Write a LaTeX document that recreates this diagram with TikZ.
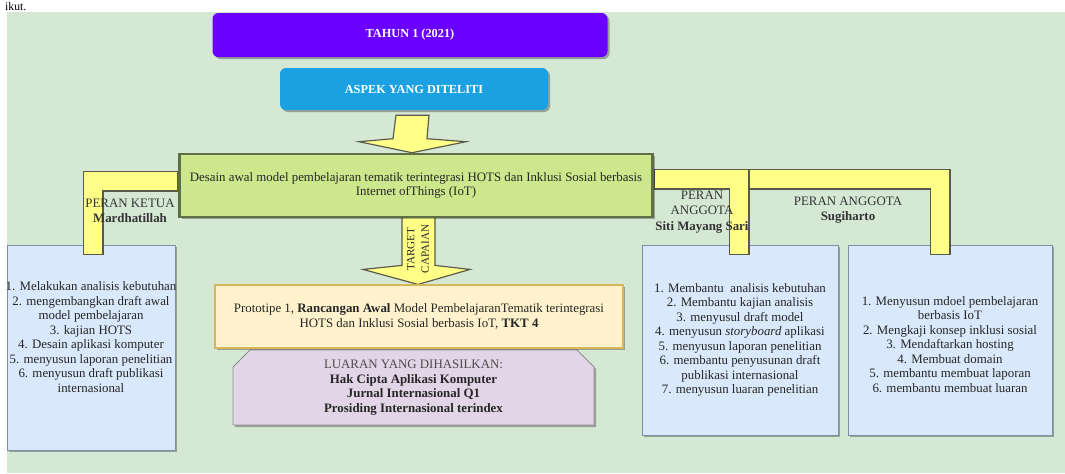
\documentclass[tikz,border=0pt]{standalone}
\usepackage{fontspec}
\setmainfont{Liberation Serif}
\usetikzlibrary{positioning,calc,shapes.misc,shadows}
\usepackage{xcolor}
\definecolor{bggreen}{HTML}{D5E8D4}
\definecolor{tahunpurple}{HTML}{6A00FF}
\definecolor{aspekblue}{HTML}{1BA1E2}
\definecolor{limefill}{HTML}{CDE88C}
\definecolor{limeedge}{HTML}{5F7046}
\definecolor{bandfill}{HTML}{FFFF88}
\definecolor{bandedge}{HTML}{5A5A4A}
\definecolor{protofill}{HTML}{FFF2CC}
\definecolor{protoedge}{HTML}{D6B656}
\definecolor{luaranfill}{HTML}{E1D5E7}
\definecolor{luaranedge}{HTML}{8E8E8E}
\definecolor{rolefill}{HTML}{DAE8FC}
\definecolor{roleedge}{HTML}{7D8FA8}
\newcommand{\px}{0.03cm}
\pgfdeclarelayer{back}
\pgfdeclarelayer{mid}
\pgfsetlayers{back,mid,main}

\begin{document}
\begin{tikzpicture}[x=\px, y=-\px,
    font=\fontsize{11}{12.5}\selectfont,
    boxshadow/.style={drop shadow={shadow xshift=0.06cm, shadow yshift=-0.06cm, opacity=0.3, fill=black}},
    box/.style={draw, inner sep=3pt, align=center, text=black!85, boxshadow},
    head/.style={box, draw=none, rounded corners=5pt, text=white, font=\fontsize{10.5}{12}\selectfont\bfseries},
    rolebox/.style={box, fill=rolefill, draw=roleedge, line width=0.8pt},
    listtext/.style={align=center, text=black!85, font=\fontsize{11}{12.4}\selectfont},
    rolelabel/.style={align=center, text=black!80, font=\fontsize{11}{13}\selectfont},
    elbow/.style={line width=21*\px, draw=bandedge, line join=miter,
      postaction={draw=bandfill, line width=18*\px, shorten <=1.5*\px, shorten >=1.5*\px}},
    yarrow/.style={fill=bandfill, draw=bandedge, line width=1pt, line join=miter}]

  \useasboundingbox (0,0) rectangle (1065,473);

  % ---- backdrop and role boxes ------------------------------------------
  \begin{pgfonlayer}{back}
    \fill[bggreen] (7,12) rectangle (1065,473);
    \node[rolebox, minimum width=168*\px, minimum height=205*\px] (ketua) at (91,347.5) {};
    \node[rolebox, minimum width=196*\px, minimum height=190*\px] (siti)  at (740,340) {};
    \node[rolebox, minimum width=204*\px, minimum height=190*\px] (sugi)  at (950,340) {};
  \end{pgfonlayer}
  \node[anchor=base west, font=\fontsize{10}{10}\selectfont] (kata) at (1,10) {ikut.};

  % ---- top of the chart --------------------------------------------------
  \node[head, fill=tahunpurple, minimum width=395*\px, minimum height=44*\px] (tahun) at (410,35) {TAHUN 1 (2021)};
  \node[head, fill=aspekblue, minimum width=268*\px, minimum height=42*\px] (aspek) at (414,89) {ASPEK YANG DITELITI};
  \node[box, fill=limefill, draw=limeedge, line width=2.2pt, minimum width=473*\px, minimum height=63*\px] (desain) at (416,185.5)
    {Desain awal model pembelajaran tematik terintegrasi HOTS dan Inklusi Sosial berbasis\\ Internet ofThings (IoT)};

  % ---- target and outputs ------------------------------------------------
  \node[chamfered rectangle, chamfered rectangle corners={north west,north east}, chamfered rectangle xsep=0.4cm,
        fill=luaranfill, draw=luaranedge, line width=0.8pt, boxshadow, align=center, text=black!85,
        minimum width=361*\px, minimum height=75*\px] (luaran) at (413.5,387.5)
    {\textcolor{black!70}{LUARAN YANG DIHASILKAN:}\\ \textbf{Hak Cipta Aplikasi Komputer}\\ \textbf{Jurnal Internasional Q1}\\ \textbf{Prosiding Internasional terindex}};
  \node[box, fill=protofill, draw=protoedge, line width=1pt, minimum width=408*\px, minimum height=63*\px] (proto) at (419,316.5)
    {Prototipe 1, \textbf{Rancangan Awal} Model PembelajaranTematik terintegrasi\\ HOTS dan Inklusi Sosial berbasis IoT, \textbf{TKT 4}};

  % ---- yellow arrows and elbows -----------------------------------------
  \coordinate (ketuatab) at (93,255);
  \coordinate (sititab)  at (739,255);
  \coordinate (split)    at (748,179);
  \coordinate (sugitab)  at (940,255);
  \begin{pgfonlayer}{mid}
    \draw[yarrow] ($(aspek.south)+(-18,5)$) -- ($(aspek.south)+(15,5)$) -- ($(desain.north)+(11,-14)$)
      -- ($(desain.north)+(50,-11)$) -- ($(desain.north)+(-4,0)$) -- ($(desain.north)+(-57,-11)$)
      -- ($(desain.north)+(-23,-14)$) -- cycle;
    \draw[yarrow] ($(proto.north |- desain.south)+(-17,-2)$) -- ($(proto.north |- desain.south)+(16,-2)$)
      -- ($(proto.north)+(16,-19)$) -- ($(proto.north)+(51,-15)$) -- ($(proto.north)+(-1,0)$)
      -- ($(proto.north)+(-56,-15)$) -- ($(proto.north)+(-17,-19)$) -- cycle;
    \draw[elbow] (desain.west |- 0,181) -| (ketuatab);
    \draw[elbow] (desain.east |- 0,179) -| (sititab);
    \draw[elbow] (split) -| (sugitab);
  \end{pgfonlayer}
  \node[rotate=90, align=center, text=black!85, font=\fontsize{9.5}{12.5}\selectfont] (target) at (418,249) {TARGET\\CAPAIAN};

  % ---- role labels and tasks ---------------------------------------------
  \node[rolelabel] (ketualbl) at (130,210.5) {PERAN KETUA\\ \textbf{Mardhatillah}};
  \node[rolelabel] (sitilbl)  at (702,212)   {PERAN\\ ANGGOTA\\ \textbf{Siti Mayang Sari}};
  \node[rolelabel] (sugilbl)  at (848,210.5) {PERAN ANGGOTA\\ \textbf{Sugiharto}};

  \node[listtext] (ketuatxt) at (91,337) {1. Melakukan analisis kebutuhan\\ 2. mengembangkan draft awal\\ model pembelajaran\\ 3. kajian HOTS\\ 4. Desain aplikasi komputer\\ 5. menyusun laporan penelitian\\ 6. menyusun draft publikasi\\ internasional};
  \node[listtext] (sititxt)  at (740,340) {1. Membantu \ analisis kebutuhan\\ 2. Membantu kajian analisis\\ 3. menyusul draft model\\ 4. menyusun \textit{storyboard} aplikasi\\ 5. menyusun laporan penelitian\\ 6. membantu penyusunan draft\\ publikasi internasional\\ 7. menyusun luaran penelitian};
  \node[listtext] (sugitxt)  at (950,344.5) {1. Menyusun mdoel pembelajaran\\ berbasis IoT\\ 2. Mengkaji konsep inklusi sosial\\ 3. Mendaftarkan hosting\\ 4. Membuat domain\\ 5. membantu membuat laporan\\ 6. membantu membuat luaran};
\end{tikzpicture}
\end{document}
